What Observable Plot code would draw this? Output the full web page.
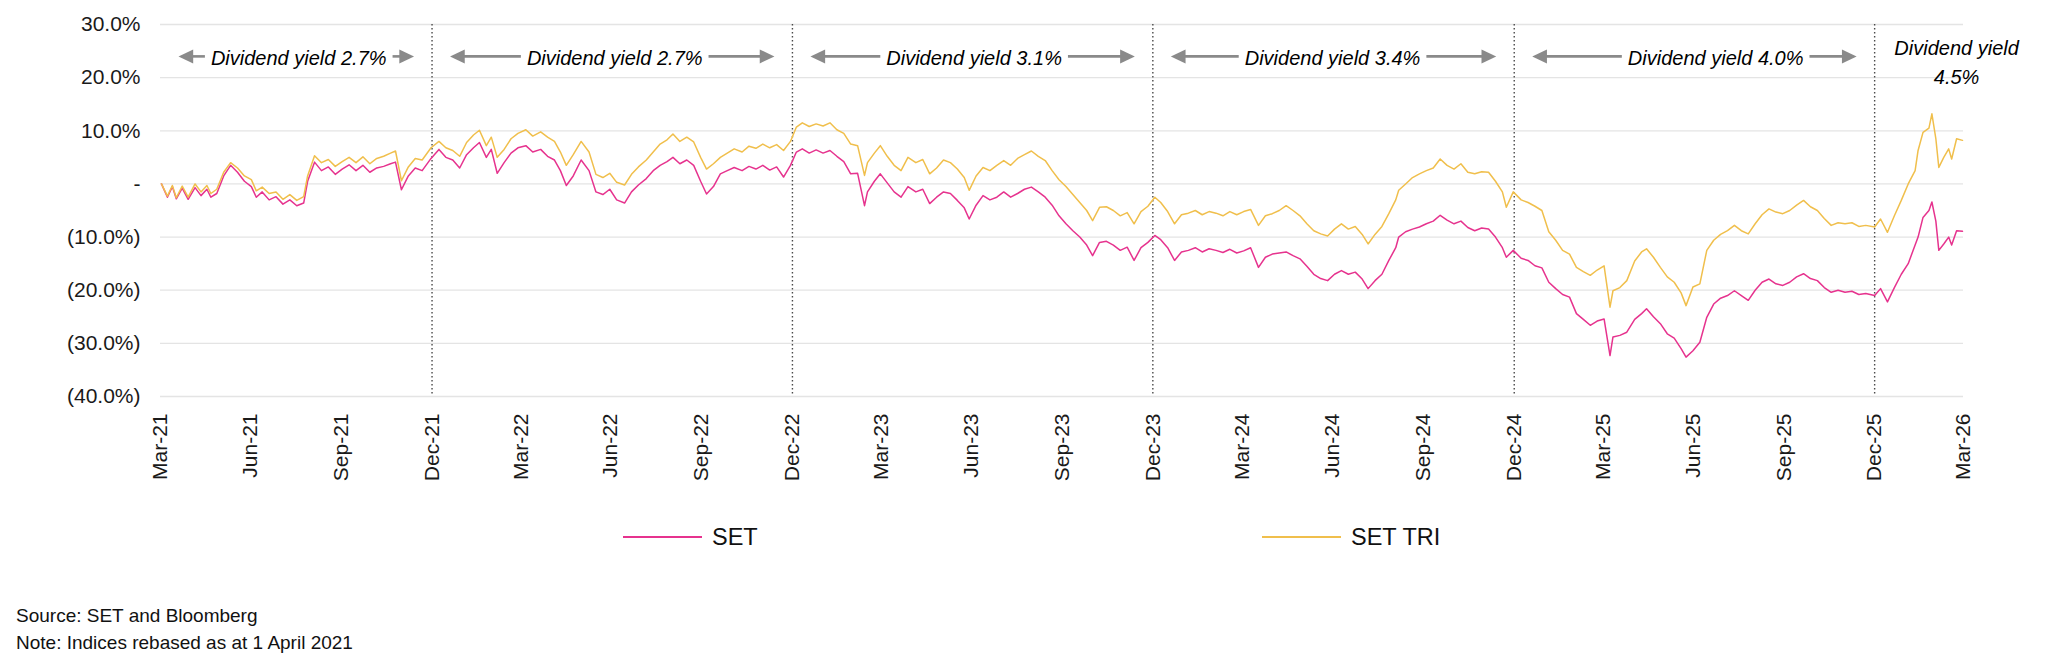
<!DOCTYPE html>
<html>
<head>
<meta charset="utf-8">
<script src="https://cdn.jsdelivr.net/npm/d3@7"></script>
<script src="https://cdn.jsdelivr.net/npm/@observablehq/plot@0.6"></script>
<style>
  html, body { margin: 0; padding: 0; background: #fff; }
  #figure { position: relative; width: 2048px; height: 666px; font-family: "Liberation Sans", Arial, Helvetica, sans-serif; color: #111; }
  #chart { position: absolute; left: 0; top: 0; }
  .legend-item { position: absolute; top: 525px; height: 24px; display: flex; align-items: center; font-size: 23.5px; line-height: 24px; white-space: nowrap; }
  .swatch { width: 79px; height: 2px; margin-right: 10px; }
  .note { position: absolute; left: 16px; font-size: 19px; line-height: 19px; white-space: nowrap; }
</style>
</head>
<body>
<div id="figure">
  <div id="chart"></div>
  <div class="legend-item" style="left:623px"><span class="swatch" id="sw-set"></span><span id="lg-set"></span></div>
  <div class="legend-item" style="left:1262px"><span class="swatch" id="sw-tri"></span><span id="lg-tri"></span></div>
  <div class="note" id="source" style="top:605.6px"></div>
  <div class="note" id="note" style="top:633.2px"></div>
</div>
<script>
// Cumulative return since 1 April 2021, in percent
const dates = [
  "2021-04-01","2021-04-07","2021-04-12","2021-04-16","2021-04-22","2021-04-28","2021-05-05","2021-05-11","2021-05-17","2021-05-21",
  "2021-05-27","2021-06-03","2021-06-10","2021-06-17","2021-06-24","2021-07-01","2021-07-06","2021-07-12","2021-07-19","2021-07-26",
  "2021-08-02","2021-08-09","2021-08-16","2021-08-23","2021-08-27","2021-09-03","2021-09-10","2021-09-17","2021-09-24","2021-10-01",
  "2021-10-08","2021-10-15","2021-10-22","2021-10-29","2021-11-05","2021-11-12","2021-11-19","2021-11-24","2021-11-30","2021-12-07",
  "2021-12-14","2021-12-21","2021-12-30",
  "2022-01-07","2022-01-14","2022-01-21","2022-01-28","2022-02-04","2022-02-11","2022-02-17","2022-02-24","2022-03-01","2022-03-07",
  "2022-03-14","2022-03-21","2022-03-28","2022-04-05","2022-04-12","2022-04-20","2022-04-27","2022-05-04","2022-05-10","2022-05-16",
  "2022-05-23","2022-05-31","2022-06-08","2022-06-15","2022-06-22","2022-06-29","2022-07-06","2022-07-14","2022-07-21","2022-07-28",
  "2022-08-05","2022-08-12","2022-08-19","2022-08-26","2022-09-01","2022-09-08","2022-09-15","2022-09-22","2022-09-29","2022-10-05",
  "2022-10-12","2022-10-19","2022-10-26","2022-11-02","2022-11-10","2022-11-17","2022-11-24","2022-12-01","2022-12-08","2022-12-15",
  "2022-12-22","2022-12-29",
  "2023-01-04","2023-01-10","2023-01-17","2023-01-24","2023-01-31","2023-02-07","2023-02-14","2023-02-21","2023-02-28","2023-03-07",
  "2023-03-14","2023-03-17","2023-03-24","2023-03-30","2023-04-06","2023-04-13","2023-04-20","2023-04-27","2023-05-05","2023-05-12",
  "2023-05-19","2023-05-26","2023-06-02","2023-06-09","2023-06-16","2023-06-23","2023-06-28","2023-07-05","2023-07-12","2023-07-19",
  "2023-07-26","2023-08-02","2023-08-09","2023-08-16","2023-08-23","2023-08-30","2023-09-06","2023-09-13","2023-09-20","2023-09-27",
  "2023-10-04","2023-10-11","2023-10-18","2023-10-25","2023-10-31","2023-11-07","2023-11-14","2023-11-21","2023-11-28","2023-12-05",
  "2023-12-12","2023-12-19","2023-12-26",
  "2024-01-02","2024-01-08","2024-01-15","2024-01-22","2024-01-29","2024-02-05","2024-02-12","2024-02-19","2024-02-26","2024-03-04",
  "2024-03-11","2024-03-18","2024-03-25","2024-04-01","2024-04-08","2024-04-16","2024-04-23","2024-04-30","2024-05-07","2024-05-14",
  "2024-05-21","2024-05-28","2024-06-04","2024-06-11","2024-06-18","2024-06-25","2024-07-02","2024-07-09","2024-07-16","2024-07-23",
  "2024-07-30","2024-08-05","2024-08-12","2024-08-19","2024-08-26","2024-09-02","2024-09-05","2024-09-12","2024-09-19","2024-09-26",
  "2024-10-03","2024-10-10","2024-10-17","2024-10-24","2024-10-31","2024-11-07","2024-11-14","2024-11-21","2024-11-28","2024-12-05",
  "2024-12-12","2024-12-19","2024-12-23","2024-12-30",
  "2025-01-07","2025-01-14","2025-01-21","2025-01-28","2025-02-04","2025-02-11","2025-02-18","2025-02-25","2025-03-04","2025-03-11",
  "2025-03-18","2025-03-25","2025-04-01","2025-04-07","2025-04-10","2025-04-17","2025-04-24","2025-05-02","2025-05-09","2025-05-14",
  "2025-05-21","2025-05-28","2025-06-04","2025-06-11","2025-06-18","2025-06-23","2025-06-30","2025-07-07","2025-07-14","2025-07-21",
  "2025-07-28","2025-08-04","2025-08-11","2025-08-18","2025-08-25","2025-09-01","2025-09-08","2025-09-15","2025-09-22","2025-09-29",
  "2025-10-06","2025-10-13","2025-10-20","2025-10-27","2025-11-03","2025-11-10","2025-11-17","2025-11-24","2025-12-01","2025-12-08",
  "2025-12-15","2025-12-22","2025-12-31",
  "2026-01-06","2026-01-13","2026-01-20","2026-01-27","2026-02-03","2026-02-10","2026-02-13","2026-02-18","2026-02-24","2026-02-27",
  "2026-03-03","2026-03-06","2026-03-11","2026-03-16","2026-03-19","2026-03-24","2026-03-30"
];

const setReturns = [
  0.0,-2.5,-0.5,-2.8,-0.8,-2.9,-0.7,-2.2,-1.0,-2.5,
  -1.8,1.5,3.5,2.2,0.5,-0.5,-2.5,-1.5,-3.0,-2.4,
  -3.8,-3.0,-4.1,-3.6,0.5,4.1,2.5,3.2,1.8,2.8,
  3.6,2.5,3.5,2.2,3.0,3.3,3.8,4.1,-1.1,1.5,
  3.0,2.5,4.8,
  6.5,5.0,4.5,3.0,5.5,6.8,7.8,5.0,6.5,2.0,
  4.0,5.8,6.8,7.2,6.0,6.5,5.2,4.5,2.5,-0.3,
  1.5,4.5,2.5,-1.5,-2.0,-1.0,-3.0,-3.6,-1.5,-0.2,
  1.0,2.5,3.5,4.2,5.0,3.8,4.5,3.5,0.5,-1.9,
  -0.5,1.9,2.5,3.1,2.5,3.3,2.8,3.5,2.6,3.2,
  1.3,3.5,
  6.0,6.6,5.8,6.4,5.8,6.3,5.2,4.2,1.9,2.0,
  -4.1,-1.5,0.5,1.9,0.2,-1.5,-2.5,-0.5,-1.5,-1.0,
  -3.7,-2.5,-1.5,-1.8,-3.1,-4.5,-6.6,-4.0,-2.2,-3.0,
  -2.5,-1.5,-2.5,-1.8,-1.0,-0.6,-1.5,-2.5,-4.0,-6.0,
  -7.5,-8.8,-10.0,-11.5,-13.5,-11.0,-10.8,-11.5,-12.5,-11.9,
  -14.4,-12.0,-11.0,
  -9.7,-10.5,-12.0,-14.4,-12.8,-12.5,-12.0,-12.8,-12.2,-12.5,
  -12.9,-12.3,-13.0,-12.6,-12.0,-15.7,-13.8,-13.2,-13.0,-12.8,
  -13.5,-14.1,-15.5,-17.0,-17.8,-18.2,-17.0,-16.3,-17.0,-16.6,
  -17.9,-19.7,-18.2,-17.0,-14.4,-12.0,-10.0,-9.0,-8.5,-8.1,
  -7.5,-7.0,-5.9,-6.8,-7.5,-7.0,-8.2,-8.8,-8.3,-8.5,
  -10.0,-12.0,-13.8,-12.5,
  -14.0,-14.4,-15.4,-15.8,-18.5,-19.7,-20.8,-21.3,-24.4,-25.5,
  -26.6,-25.8,-25.4,-32.3,-28.8,-28.5,-27.9,-25.5,-24.4,-23.5,
  -25.0,-26.3,-28.2,-29.0,-31.0,-32.6,-31.4,-29.8,-25.1,-22.6,
  -21.5,-21.0,-20.1,-21.0,-21.9,-20.0,-18.5,-17.9,-18.8,-19.1,
  -18.5,-17.5,-16.9,-17.8,-18.2,-19.5,-20.4,-20.0,-20.4,-20.2,
  -20.8,-20.6,-21.0,
  -19.7,-22.2,-19.5,-17.0,-15.0,-11.5,-10.0,-6.3,-5.0,-3.4,
  -7.0,-12.5,-11.3,-10.0,-11.5,-8.8,-8.9
];

const triReturns = [
  0.0,-2.3,-0.3,-2.6,-0.4,-2.5,0.0,-1.5,-0.3,-1.8,
  -1.0,2.2,4.0,3.0,1.5,0.8,-1.3,-0.6,-1.8,-1.5,
  -2.9,-2.0,-3.1,-2.4,1.5,5.3,4.0,4.6,3.3,4.2,
  5.0,4.0,5.1,3.8,4.8,5.2,5.8,6.2,0.6,3.2,
  4.8,4.5,6.8,
  8.0,6.8,6.3,5.2,7.8,9.2,10.1,7.2,8.8,5.0,
  6.5,8.5,9.5,10.2,9.0,9.8,8.8,8.0,6.0,3.5,
  5.5,8.0,6.0,1.8,1.2,2.0,0.3,-0.2,1.8,3.2,
  4.5,6.0,7.5,8.3,9.4,8.0,8.8,7.9,5.0,2.8,
  3.8,5.0,5.8,6.6,6.0,7.1,6.7,7.5,6.8,7.4,
  6.3,8.0,
  10.7,11.5,10.8,11.3,10.9,11.5,10.2,9.5,7.5,7.2,
  1.6,4.0,5.8,7.2,5.2,3.5,2.5,5.0,4.0,4.6,
  1.9,3.0,4.5,4.0,2.8,1.2,-1.2,1.5,3.1,2.5,
  3.5,4.4,3.5,4.8,5.5,6.2,5.2,4.4,2.5,0.8,
  -0.5,-2.0,-3.5,-5.0,-6.9,-4.4,-4.3,-5.0,-6.0,-5.4,
  -7.5,-5.2,-4.2,
  -2.5,-3.5,-5.2,-7.5,-5.8,-5.5,-5.0,-5.8,-5.2,-5.5,
  -6.0,-5.2,-5.8,-5.2,-4.8,-7.8,-6.0,-5.6,-5.0,-4.1,
  -5.0,-6.0,-7.5,-8.8,-9.4,-9.8,-8.5,-7.5,-8.5,-8.0,
  -9.5,-11.3,-9.5,-8.0,-5.6,-3.0,-1.2,0.0,1.2,1.9,
  2.5,3.0,4.7,3.5,2.8,3.8,2.2,1.9,2.3,2.2,
  0.5,-1.5,-4.4,-1.5,
  -3.0,-3.5,-4.2,-5.0,-9.0,-10.6,-12.5,-13.2,-15.7,-16.5,
  -17.2,-16.2,-15.4,-23.2,-20.1,-19.5,-18.2,-14.5,-12.8,-12.2,
  -13.8,-15.7,-17.5,-18.5,-20.5,-22.9,-19.4,-18.8,-12.5,-10.6,
  -9.5,-8.8,-7.8,-8.8,-9.4,-7.5,-5.8,-4.7,-5.3,-5.6,
  -5.0,-4.0,-3.1,-4.3,-5.0,-6.5,-7.8,-7.3,-7.5,-7.3,
  -8.0,-7.8,-8.1,
  -6.6,-9.1,-6.0,-3.1,0.0,2.5,6.3,9.7,10.5,13.2,
  8.5,3.1,5.0,6.6,4.7,8.5,8.2
];

const seriesNames = ["SET", "SET TRI"];
const yTicks = [30, 20, 10, 0, -10, -20, -30, -40];

// Dividend-yield periods: boundaries, label anchor dates and texts
const periodStarts = ["2021-03-31", "2021-12-31", "2022-12-31", "2023-12-31", "2024-12-31", "2025-12-31"];
const periodEnds   = ["2021-12-31", "2022-12-31", "2023-12-31", "2024-12-31", "2025-12-31", "2026-03-31"];
const labelDates   = ["2021-08-18", "2022-07-04", "2023-07-03", "2024-06-30", "2025-07-23", "2026-03-24"];
const yieldLabels  = ["Dividend yield 2.7%", "Dividend yield 2.7%", "Dividend yield 3.1%",
                      "Dividend yield 3.4%", "Dividend yield 4.0%", "Dividend yield\n4.5%"];
const annotationLevel = 24; // percent, the row the yield annotations sit on

const sourceText = "Source: SET and Bloomberg";
const noteText = "Note: Indices rebased as at 1 April 2021";

// ---- layout & styles ----
const width = 2048, height = 500;
const marginTop = 24, marginBottom = 104, marginLeft = 160, marginRight = 85;
const setColor = "#e6338e", triColor = "#f0bf4c", arrowColor = "#8a8a8a";
const fontFamily = "'Liberation Sans', Arial, Helvetica, sans-serif";

const parseDate = d3.utcParse("%Y-%m-%d");
const rows = dates.map((d, i) => ({date: parseDate(d), set: setReturns[i], tri: triReturns[i]}));
const xDomain = [parseDate("2021-03-31"), parseDate("2026-03-31")];

// quarter-end ticks, Mar-21 … Mar-26
const tickDates = d3.range(21).map(i =>
  d3.utcDay.offset(d3.utcMonth.offset(Date.UTC(2021, 3, 1), 3 * i), -1));

const fmtPct = v => v === 0 ? "-" : v < 0 ? `(${(-v).toFixed(1)}%)` : `${v.toFixed(1)}%`;

// x scale used to lay out the arrows around each label
const xs = Plot.scale({x: {type: "utc", domain: xDomain, range: [marginLeft, width - marginRight]}});
const ctx = document.createElement("canvas").getContext("2d");
ctx.font = `italic 20px ${fontFamily}`;

const periods = periodStarts.map((s, i) => ({
  start: parseDate(s), end: parseDate(periodEnds[i]), at: parseDate(labelDates[i]), label: yieldLabels[i]
}));

const tipInset = 18, gap = 6, headLen = 14.7;
const shafts = [], leftHeads = [], rightHeads = [];
for (const p of periods) {
  if (p.label.includes("\n")) continue;
  const s = xs.apply(p.start), e = xs.apply(p.end), c = xs.apply(p.at);
  const w = ctx.measureText(p.label).width;
  const lTip = s + tipInset, lTail = c - w / 2 - gap;
  const rTip = e - tipInset, rTail = c + w / 2 + gap;
  shafts.push({x1: xs.invert(lTip + headLen * 0.6), x2: xs.invert(lTail)});
  shafts.push({x1: xs.invert(rTail), x2: xs.invert(rTip - headLen * 0.6)});
  leftHeads.push({x: xs.invert(lTip)});
  rightHeads.push({x: xs.invert(rTip)});
}

// filled triangular arrowheads, tip at the anchor point
const headRight = {draw(c, size) { const r = Math.sqrt(size / Math.PI); c.moveTo(0, 0); c.lineTo(-2.1 * r, -r); c.lineTo(-2.1 * r, r); c.closePath(); }};
const headLeft  = {draw(c, size) { const r = Math.sqrt(size / Math.PI); c.moveTo(0, 0); c.lineTo(2.1 * r, -r); c.lineTo(2.1 * r, r); c.closePath(); }};

const boundaries = periodEnds.slice(0, -1).map(parseDate);
const singleLabels = periods.filter(p => !p.label.includes("\n"));
const multiLabels = periods.filter(p => p.label.includes("\n"));

const chart = Plot.plot({
  width, height, marginTop, marginBottom, marginLeft, marginRight,
  style: {fontFamily, fontSize: "21px", color: "#1a1a1a", background: "#fff", overflow: "visible"},
  x: {type: "utc", domain: xDomain, ticks: tickDates, tickFormat: d3.utcFormat("%b-%y"),
      tickRotate: -90, tickSize: 0, tickPadding: 17, label: null},
  y: {domain: [-40, 30], ticks: yTicks, tickFormat: fmtPct, tickSize: 0, tickPadding: 20, label: null},
  marks: [
    Plot.ruleY(yTicks, {stroke: "#e4e4e4", strokeWidth: 1.3}),
    Plot.ruleX(boundaries, {stroke: "#4a4a4a", strokeWidth: 1.4, strokeDasharray: "1.5,2.5"}),
    Plot.lineY(rows, {x: "date", y: "set", stroke: setColor, strokeWidth: 1.5}),
    Plot.lineY(rows, {x: "date", y: "tri", stroke: triColor, strokeWidth: 1.5}),
    Plot.link(shafts, {x1: "x1", x2: "x2", y1: annotationLevel, y2: annotationLevel, stroke: arrowColor, strokeWidth: 2.6}),
    Plot.dot(leftHeads, {x: "x", y: annotationLevel, symbol: headLeft, r: 7, fill: arrowColor, stroke: "none"}),
    Plot.dot(rightHeads, {x: "x", y: annotationLevel, symbol: headRight, r: 7, fill: arrowColor, stroke: "none"}),
    Plot.text(singleLabels, {x: "at", y: annotationLevel, text: "label", fontStyle: "italic", fontSize: 20, fill: "#000", dy: 2}),
    Plot.text(multiLabels, {x: "at", y: annotationLevel, text: "label", fontStyle: "italic", fontSize: 20, lineHeight: 1.45, fill: "#000", dy: 4})
  ]
});
document.getElementById("chart").appendChild(chart);

document.getElementById("sw-set").style.background = setColor;
document.getElementById("sw-tri").style.background = triColor;
document.getElementById("lg-set").textContent = seriesNames[0];
document.getElementById("lg-tri").textContent = seriesNames[1];
document.getElementById("source").textContent = sourceText;
document.getElementById("note").textContent = noteText;
</script>
</body>
</html>
